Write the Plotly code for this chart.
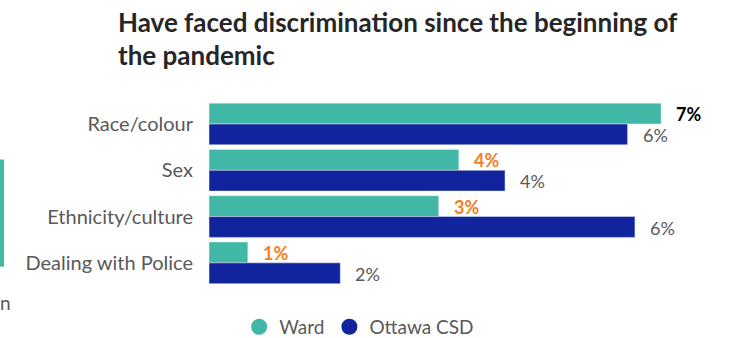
import plotly.graph_objects as go

categories = ["Race/colour", "Sex", "Ethnicity/culture", "Dealing with Police"]
ward = [6.75, 3.73, 3.43, 0.58]
ottawa = [6.25, 4.42, 6.36, 1.96]
ward_labels = ["7%", "4%", "3%", "1%"]
ottawa_labels = ["6%", "4%", "6%", "2%"]

TEAL = "#41B7A6"
NAVY = "#12249D"
ORANGE = "#F47E23"
GREY = "#595959"
FONT = "Lato"

fig = go.Figure()
fig.add_trace(go.Bar(y=categories, x=ward, orientation="h", marker_color=TEAL,
                     name="Ward", showlegend=False, hoverinfo="skip"))
fig.add_trace(go.Bar(y=categories, x=ottawa, orientation="h", marker_color=NAVY,
                     name="Ottawa CSD", showlegend=False, hoverinfo="skip"))

# legend entries with round markers
for name, color in [("Ward", TEAL), ("Ottawa CSD", NAVY)]:
    fig.add_trace(go.Scatter(x=[None], y=[None], mode="markers", name=name,
                             marker=dict(color=color, size=18, symbol="circle")))

annotations = []
for i, cat in enumerate(categories):
    first = i == 0
    annotations.append(dict(
        x=ward[i], y=cat, text=f"<b>{ward_labels[i]}</b>", showarrow=False,
        xanchor="left", yanchor="middle", xshift=13, yshift=10,
        font=dict(family=FONT, size=18, color="#000000" if first else ORANGE)))
    annotations.append(dict(
        x=ottawa[i], y=cat, text=ottawa_labels[i], showarrow=False,
        xanchor="left", yanchor="middle", xshift=13, yshift=-11,
        font=dict(family=FONT, size=18, color=GREY)))

# title in two lines
annotations.append(dict(xref="paper", yref="paper", x=-0.183, y=1.42,
                        text="<b>Have faced discrimination since the beginning of</b>",
                        showarrow=False, xanchor="left", yanchor="middle",
                        font=dict(family=FONT, size=26, color="#262626")))
annotations.append(dict(xref="paper", yref="paper", x=-0.183, y=1.24,
                        text="<b>the pandemic</b>",
                        showarrow=False, xanchor="left", yanchor="middle",
                        font=dict(family=FONT, size=26, color="#262626")))
# fragment of a neighbouring chart at the left edge
annotations.append(dict(xref="paper", yref="paper", x=-0.414, y=-0.09, text="n",
                        showarrow=False, xanchor="left", yanchor="middle",
                        font=dict(family=FONT, size=19, color=GREY)))

fig.update_layout(
    width=729, height=338,
    margin=dict(l=209, r=11, t=100, b=52, autoexpand=False),
    paper_bgcolor="white", plot_bgcolor="white",
    barmode="group", bargap=0.1, bargroupgap=0,
    font=dict(family=FONT, color=GREY),
    annotations=annotations,
    shapes=[dict(type="rect", xref="paper", yref="paper", x0=-0.4106, x1=-0.4028,
                 y0=0.104, y1=0.68, fillcolor=TEAL, line_width=0)],
    legend=dict(orientation="h", x=0.295, xanchor="center", y=-0.22, yanchor="middle",
                font=dict(family=FONT, size=19, color=GREY), itemwidth=30,
                tracegroupgap=0),
    showlegend=True,
)
fig.update_xaxes(range=[0, 7.6], visible=False)
fig.update_yaxes(autorange="reversed", showgrid=False, zeroline=False, showline=False,
                 ticks="outside", ticklen=11, tickcolor="rgba(0,0,0,0)",
                 tickfont=dict(family=FONT, size=20, color=GREY))

fig.write_html("out.html", config={"displayModeBar": False},
               post_script="document.body.style.margin='0';")
